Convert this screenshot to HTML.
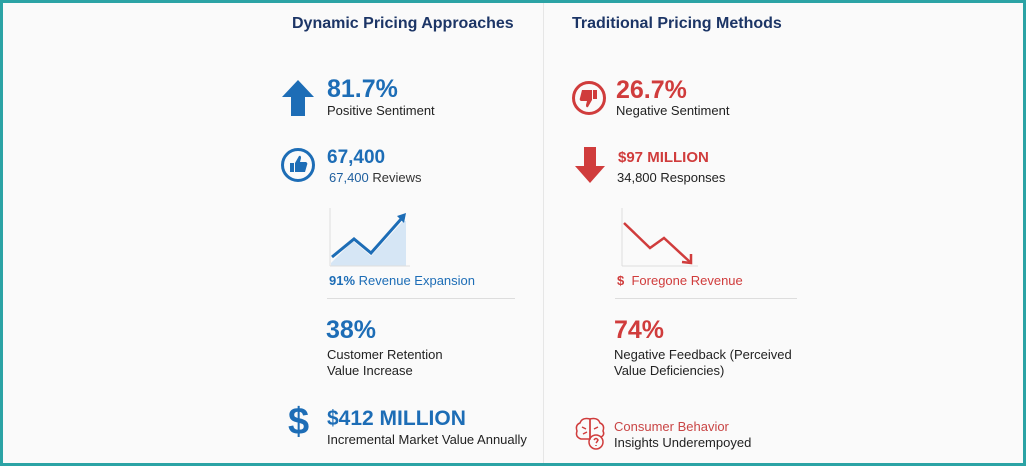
<!DOCTYPE html><html><head><style>
body{margin:0;width:1026px;height:466px;overflow:hidden;font-family:"Liberation Sans",sans-serif;}
.f{position:absolute;left:0;top:0;width:1020px;height:460px;border:3px solid #2ba3a5;background:#fafafa;}
.t{position:absolute;white-space:nowrap;line-height:1;}
.b{color:#1d6db6;font-weight:bold}.r{color:#d03c3c;font-weight:bold}
.k{color:#222;font-size:13px}
</style></head><body><div class="f">
<div style="position:absolute;left:540px;top:0;width:1px;height:460px;background:#e6e6e6"></div>
<div class="t" style="left:289px;top:13px;font-size:16px;font-weight:bold;color:#1c3566">Dynamic Pricing Approaches</div>
<div class="t" style="left:569px;top:13px;font-size:16px;font-weight:bold;color:#1c3566">Traditional Pricing Methods</div>

<svg style="position:absolute;left:278px;top:77px" width="34" height="36"><polygon points="17,0 33,17 24,17 24,36 10,36 10,17 1,17" fill="#1d6db6"/></svg>
<div class="t b" style="left:324px;top:74px;font-size:25px">81.7%</div>
<div class="t k" style="left:324px;top:101px">Positive Sentiment</div>

<svg style="position:absolute;left:277px;top:144px" width="36" height="36"><circle cx="18" cy="18" r="15.5" fill="none" stroke="#1d6db6" stroke-width="3"/><rect x="10" y="16" width="4" height="9" fill="#1d6db6"/><path d="M15 16 L19 9 Q21 8 21 11 L20 15 L26 15 Q28 16 27 18 L25 25 L15 25Z" fill="#1d6db6"/></svg>
<div class="t b" style="left:324px;top:145px;font-size:19px">67,400</div>
<div class="t k" style="left:326px;top:168px;color:#333"><span style="color:#1d5e9e">67,400</span> Reviews</div>

<svg style="position:absolute;left:325px;top:205px" width="82" height="60"><polygon points="3,55 25,33 43,48 75,13 78,13 78,58 3,58" fill="#d6e6f5"/><line x1="2" y1="0" x2="2" y2="58" stroke="#ddd"/><line x1="2" y1="58" x2="82" y2="58" stroke="#ddd"/><polyline points="4,49 26,31 43,45 74,10" fill="none" stroke="#1d6db6" stroke-width="3"/><polygon points="78,5 69,8 76,15" fill="#1d6db6"/></svg>
<div class="t" style="left:326px;top:271px;font-size:13px;color:#1d6db6"><b>91%</b> Revenue Expansion</div>
<div style="position:absolute;left:324px;top:295px;width:188px;height:1px;background:#ddd"></div>
<div class="t b" style="left:323px;top:315px;font-size:25px">38%</div>
<div class="t k" style="left:324px;top:345px">Customer Retention</div>
<div class="t k" style="left:324px;top:361px">Value Increase</div>
<div class="t b" style="left:285px;top:400px;font-size:38px">$</div>
<div class="t b" style="left:324px;top:405px;font-size:21px">$412 MILLION</div>
<div class="t k" style="left:324px;top:430px">Incremental Market Value Annually</div>

<svg style="position:absolute;left:568px;top:77px" width="36" height="36"><circle cx="18" cy="18" r="15.5" fill="none" stroke="#d03c3c" stroke-width="3"/><rect x="22" y="10" width="4" height="9" fill="#d03c3c"/><path d="M21 20 L17 27 Q15 28 15 25 L16 21 L10 21 Q8 20 9 18 L11 10 L21 10Z" fill="#d03c3c"/></svg>
<div class="t r" style="left:613px;top:75px;font-size:25px">26.7%</div>
<div class="t k" style="left:613px;top:101px">Negative Sentiment</div>
<svg style="position:absolute;left:571px;top:144px" width="32" height="36"><polygon points="16,36 31,19 22,19 22,0 10,0 10,19 1,19" fill="#d03c3c"/></svg>
<div class="t r" style="left:615px;top:147px;font-size:15px">$97 MILLION</div>
<div class="t k" style="left:614px;top:168px">34,800 Responses</div>
<svg style="position:absolute;left:617px;top:205px" width="82" height="60"><line x1="2" y1="0" x2="2" y2="58" stroke="#ddd"/><line x1="2" y1="58" x2="78" y2="58" stroke="#ddd"/><polyline points="4,15 30,40 44,30 70,54" fill="none" stroke="#d03c3c" stroke-width="2.5"/><polyline points="62,54 71,55 71,46" fill="none" stroke="#d03c3c" stroke-width="2.5"/></svg>
<div class="t" style="left:614px;top:271px;font-size:13px;color:#d03c3c"><b>$</b>&nbsp; Foregone Revenue</div>
<div style="position:absolute;left:612px;top:295px;width:182px;height:1px;background:#ddd"></div>
<div class="t r" style="left:611px;top:315px;font-size:25px">74%</div>
<div class="t k" style="left:611px;top:345px">Negative Feedback (Perceived</div>
<div class="t k" style="left:611px;top:361px">Value Deficiencies)</div>
<svg style="position:absolute;left:571px;top:412px" width="36" height="36" fill="none" stroke="#d03c3c" stroke-width="1.5"><path d="M16 4 Q8 2 6 8 Q1 10 3 16 Q1 22 7 24 L16 24Z"/><path d="M16 4 Q24 2 26 8 Q31 10 29 16 Q31 20 27 22"/><line x1="16" y1="4" x2="16" y2="24"/><path d="M8 12 L12 14 M9 19 L13 17 M24 12 L20 14"/><circle cx="22" cy="27" r="7"/><path d="M20 25 Q22 22 24 25 Q23 27 22 28 M22 30 L22 31"/></svg>
<div class="t" style="left:611px;top:417px;font-size:13px;color:#c94545">Consumer Behavior</div>
<div class="t k" style="left:611px;top:433px">Insights Underempoyed</div>
</div></body></html>
